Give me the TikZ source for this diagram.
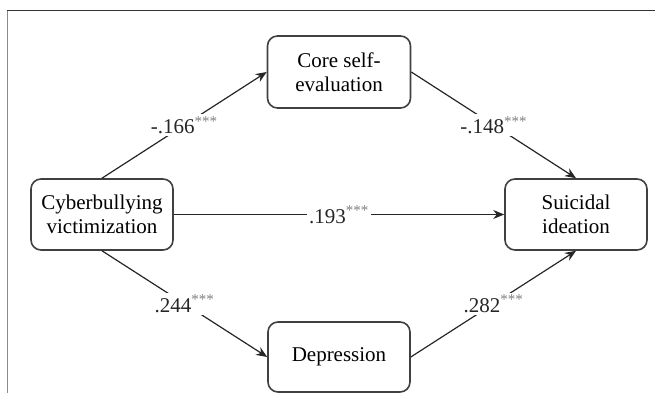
\documentclass[tikz,border=0pt]{standalone}
\usepackage{fontspec}
\setmainfont{Liberation Serif}
\usepackage{xcolor}
\usetikzlibrary{arrows, arrows.meta}
\usetikzlibrary{positioning}
\newcommand{\sig}{\textsuperscript{\fontsize{15}{15}\selectfont\color{black!50}***}}

\begin{document}
\begin{tikzpicture}[x=1pt,y=1pt,
		font=\fontsize{21}{24}\selectfont,
		varbox/.style={draw=black!75, line width=1.6pt, rounded corners=10pt, align=center, inner sep=0pt},
		path/.style={black!85, line width=1.2pt, -{Stealth[length=11pt,width=9pt]}},
		coef/.style={midway, fill=white, inner sep=2pt, text=black!85}]
				\useasboundingbox (0,0) rectangle (655,393);
				% draw frame
				\draw[black!45, line width=1.4pt] (7.5,0) -- (7.5,382.5);
				\draw[black!80, line width=1.4pt] (6.8,382.5) -- (655,382.5);
				% draw boxes
				\node[varbox, minimum width=142pt, minimum height=71pt] (cyber) at (102,178.5) {Cyberbullying\\victimization};
				\node[varbox, minimum width=143pt, minimum height=72pt] (cse) at (339,321) {Core self-\\evaluation};
				\node[varbox, minimum width=142pt, minimum height=71pt] (si) at (576,178.5) {Suicidal\\ideation};
				\node[varbox, minimum width=142pt, minimum height=70pt] (dep) at (339,36) {Depression};
				% add paths
				\draw[path] (cyber.north) -- (cse.west) node[coef] {-.166\sig};
				\draw[path] (cse.east) -- (si.north) node[coef] {-.148\sig};
				\draw[path] (cyber.east) -- (si.west) node[coef] {.193\sig};
				\draw[path] (cyber.south) -- (dep.west) node[coef] {.244\sig};
				\draw[path] (dep.east) -- (si.south) node[coef] {.282\sig};
			\end{tikzpicture}
\end{document}
